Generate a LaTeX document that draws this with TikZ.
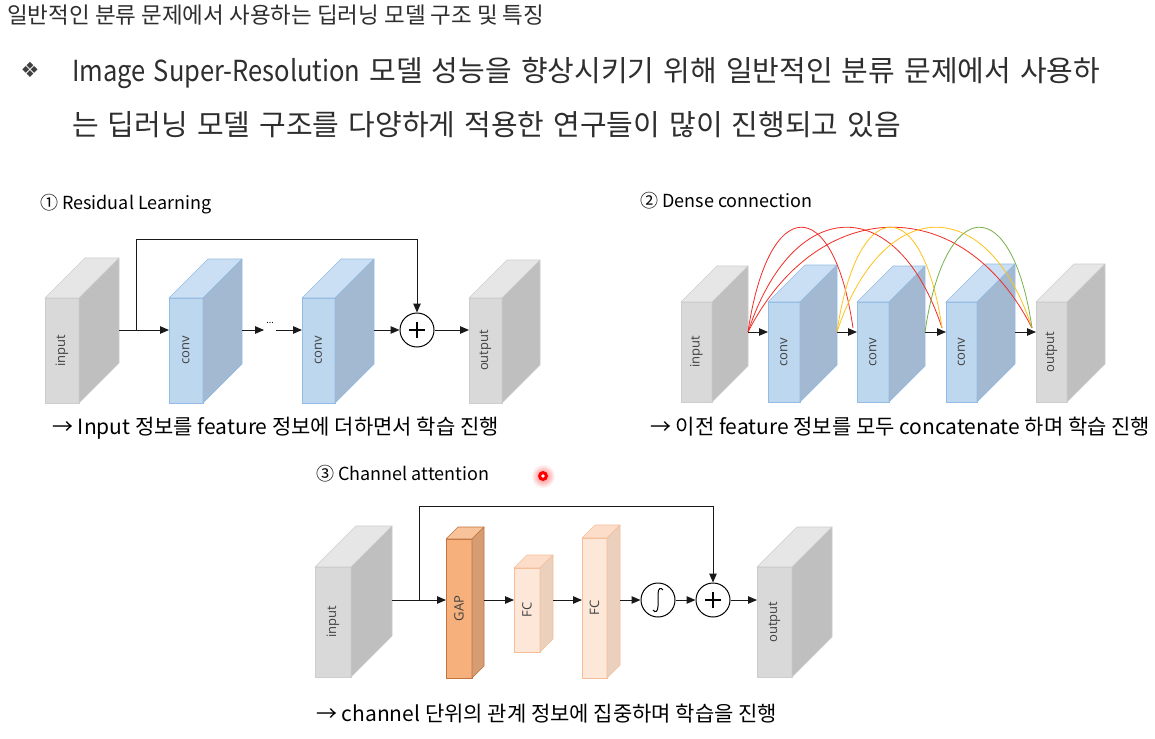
\documentclass[tikz,border=0pt]{standalone}
\usepackage{fontspec}
\setmainfont{Noto Sans CJK KR}
\newfontfamily\introfont{Noto Sans CJK KR}[WordSpace=1.4]
\newfontfamily\boxfont{Open Sans}
\newfontfamily\symfont{DejaVu Sans}
\usetikzlibrary{arrows.meta,calc}

% face colours of the feature maps: F front, T top, S side, B border
\definecolor{inpF}{HTML}{D9D9D9}\definecolor{inpT}{HTML}{E6E6E6}
\definecolor{inpS}{HTML}{BFBFBF}\definecolor{inpB}{HTML}{CDCDCD}
\definecolor{cnvF}{HTML}{BDD7EE}\definecolor{cnvT}{HTML}{CADFF3}
\definecolor{cnvS}{HTML}{A2B9D1}\definecolor{cnvB}{HTML}{94BBE3}
\definecolor{gapF}{HTML}{F6B07C}\definecolor{gapT}{HTML}{F8C29A}
\definecolor{gapS}{HTML}{D69C72}\definecolor{gapB}{HTML}{C0743F}
\definecolor{fcF}{HTML}{FDE7D8}\definecolor{fcT}{HTML}{FCDDC9}
\definecolor{fcS}{HTML}{EBD0BD}\definecolor{fcB}{HTML}{F5BE98}
\definecolor{cred}{HTML}{F22B25}\definecolor{cyel}{HTML}{FFC21A}
\definecolor{cgrn}{HTML}{78B04C}

% #1 name, #2 centre of front face, #3 width, #4 height, #5 depth, #6 colours, #7 label
\newcommand{\featbox}[7]{%
  \node[draw=#6B, fill=#6F, line width=0.6pt, minimum width=#3pt, minimum height=#4pt,
        inner sep=0pt, outer sep=0pt, text=black!75,
        font=\boxfont\fontsize{13}{13}\selectfont] (#1) at #2 {\rotatebox{90}{#7}};
  \filldraw[draw=#6B, fill=#6T, line width=0.6pt, line join=round]
    (#1.north west) -- ++(#5,-#5) -- ++(#3,0) -- (#1.north east) -- cycle;
  \filldraw[draw=#6B, fill=#6S, line width=0.6pt, line join=round]
    (#1.north east) -- ++(#5,-#5) -- ++(0,#4) -- (#1.south east) -- cycle;
}

\begin{document}
\begin{tikzpicture}[x=1pt, y=-1pt,
  arr/.style={-{Triangle[length=9pt,width=7.5pt]}, line width=1pt, draw=black!90},
  sumnode/.style={circle, draw, line width=1pt, fill=white, minimum size=34pt, inner sep=0pt,
    path picture={\draw[line width=1.2pt, shift={(path picture bounding box.center)}]
      (-8pt,0pt) -- (8pt,0pt) (0pt,-8pt) -- (0pt,8pt);}},
  signode/.style={circle, draw, line width=1pt, fill=white, minimum size=34pt, inner sep=0pt,
    path picture={\draw[line width=1pt, shift={(path picture bounding box.center)}]
      (5pt,10pt) .. controls (3pt,13pt) and (0pt,12pt) .. (0pt,6pt) -- (0pt,-6pt)
      .. controls (0pt,-12pt) and (-3pt,-13pt) .. (-5pt,-10pt);}},
  headtext/.style={anchor=base west, inner sep=0pt, text=black!82},
  introtext/.style={headtext, font=\introfont\fontsize{29}{32}\selectfont},
  title/.style={anchor=base west, inner sep=0pt, font=\fontsize{18}{20}\selectfont},
  caption/.style={anchor=base west, inner sep=0pt, font=\fontsize{21}{24}\selectfont},
  dense/.style={line width=0.8pt}
]
\fill[white] (0,0) rectangle (1155,738);
\useasboundingbox (0,0) rectangle (1155,738);

% heading
\node[headtext, font=\fontsize{22.5}{26}\selectfont] (head) at (7,24)
  {일반적인 분류 문제에서 사용하는 딥러닝 모델 구조 및 특징};
\node[text=black!75, font=\symfont\fontsize{21}{21}\selectfont, inner sep=0pt] (bul) at (30,70) {❖};
\node[introtext] (intro1) at (72,82)
  {\scalebox{0.88}[1]{Image Super-Resolution} 모델 성능을 향상시키기 위해 일반적인 분류 문제에서 사용하};
\node[introtext] (intro2) at (72,136)
  {는 딥러닝 모델 구조를 다양하게 적용한 연구들이 많이 진행되고 있음};

% (1) residual learning
\node[title] (t-res) at (40,209) {① Residual Learning};
\featbox{in1}{(62,350.5)}{34}{105}{40}{inp}{input}
\featbox{cv1}{(186,350.5)}{34}{105}{39}{cnv}{conv}
\featbox{cv2}{(318.5,350.5)}{33}{105}{39}{cnv}{conv}
\featbox{out1}{(485.5,350.5)}{33}{105}{38}{inp}{output}
\node[sumnode] (pl1) at (417,330) {};
\node[font=\fontsize{9}{9}\selectfont, inner sep=0pt] (dt1) at (270,323) {...};
\coordinate (r1) at (0,330);
\coordinate (j1) at (136,330);
\coordinate (k1) at (136,239);
\draw[arr] ($(in1.east |- r1)+(40,0)$) -- (cv1.west |- r1);
\draw[arr] (j1) -- (k1) -| (pl1);
\draw[arr] ($(cv1.east |- r1)+(39,0)$) -- ($(dt1.west |- r1)+(-2,0)$);
\draw[arr] ($(dt1.east |- r1)+(2,0)$) -- (cv2.west |- r1);
\draw[arr] ($(cv2.east |- r1)+(39,0)$) -- (pl1);
\draw[arr] (pl1) -- (out1.west |- r1);
\node[caption] (c-res) at (52,434) {→ Input 정보를 feature 정보에 더하면서 학습 진행};

% (2) dense connection
\node[title] (t-den) at (640,207) {② Dense connection};
\featbox{d0}{(696.5,352)}{31}{100}{36}{inp}{input}
\featbox{d1}{(784,352)}{32}{100}{37}{cnv}{conv}
\featbox{d2}{(873,352)}{32}{100}{36}{cnv}{conv}
\featbox{d3}{(961.5,352)}{31}{100}{38}{cnv}{conv}
\featbox{d4}{(1051.5,352)}{31}{100}{38}{inp}{output}
\coordinate (r2) at (0,332);
\foreach \a/\b/\d in {d0/d1/36, d1/d2/37, d2/d3/36, d3/d4/38}
  \draw[arr] ($(\a.east |- r2)+(\d,0)$) coordinate (o-\a) -- (\b.west |- r2);
\foreach \b in {d2,d3,d4}
  \coordinate (e-\b) at ($(\b.west |- r2)+(-4,-4)$);
\foreach \a/\b/\c/\k in {d0/d2/cred/20, d0/d3/cred/45, d0/d4/cred/70,
                         d1/d3/cyel/20, d1/d4/cyel/45, d2/d4/cgrn/20}
  \draw[\c, dense] (o-\a) .. controls +(\k,-137) and +(-\k,-137) .. (e-\b);
\node[caption] (c-den) at (650,434) {→ 이전 feature 정보를 모두 concatenate 하며 학습 진행};

% (3) channel attention
\node[title] (t-cha) at (316,480) {③ Channel attention};
\shade[inner color=red!55, outer color=white] (543,476) circle (12pt);
\node[circle, fill=red, minimum size=10pt, inner sep=0pt] (dot) at (543,476) {};
\fill[white] (dot) circle (1.8pt);
\featbox{c0}{(333,622)}{36}{110}{41}{inp}{input}
\featbox{gap}{(459,608.5)}{26}{139}{12}{gap}{GAP}
\featbox{fc1}{(527,610)}{26}{84}{13}{fc}{FC}
\featbox{fc2}{(594.5,608)}{25}{140}{13}{fc}{FC}
\featbox{c5}{(774.5,622)}{35}{110}{40}{inp}{output}
\node[signode] (sg) at (658,600) {};
\node[sumnode] (pl3) at (713,600) {};
\coordinate (j3) at (419,600);
\coordinate (k3) at (419,506);
\draw[arr] ($(c0.east |- sg)+(41,0)$) -- (gap.west |- sg);
\draw[arr] (j3) -- (k3) -| (pl3);
\draw[arr] ($(gap.east |- sg)+(12,0)$) -- (fc1.west |- sg);
\draw[arr] ($(fc1.east |- sg)+(13,0)$) -- (fc2.west |- sg);
\draw[arr] ($(fc2.east |- sg)+(13,0)$) -- (sg);
\draw[arr] (sg) -- (pl3);
\draw[arr] (pl3) -- (c5.west |- sg);
\node[caption] (c-cha) at (316,721) {→ channel 단위의 관계 정보에 집중하며 학습을 진행};
\end{tikzpicture}
\end{document}
